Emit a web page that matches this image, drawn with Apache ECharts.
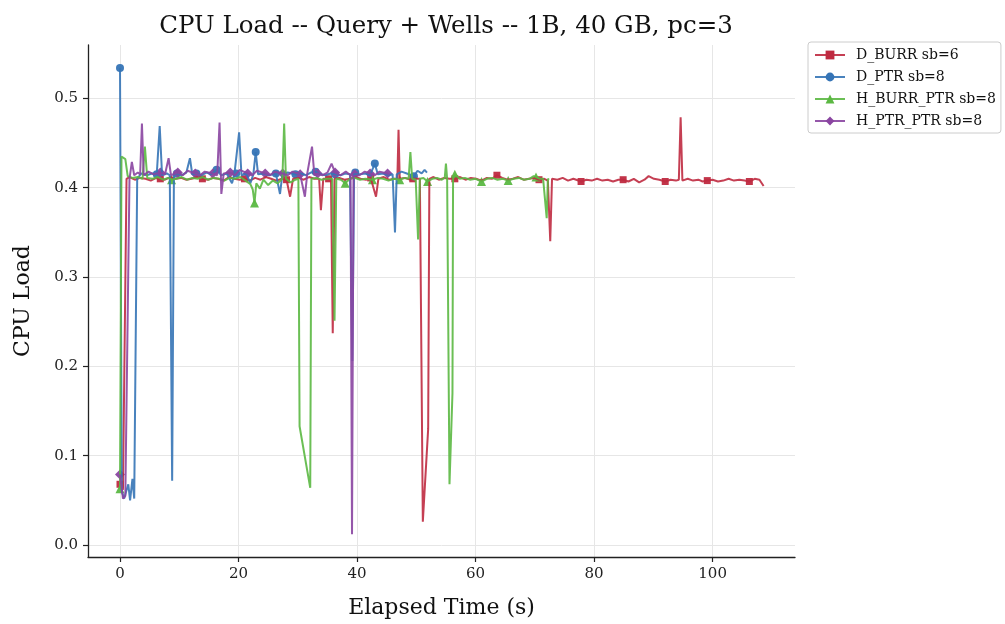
<!DOCTYPE html>
<html>
<head>
<meta charset="utf-8">
<script src="https://cdn.jsdelivr.net/npm/echarts@6/dist/echarts.min.js"></script>
<style>
  html, body { margin: 0; padding: 0; background: #fff; }
  #chart { width: 1005px; height: 624px; }
</style>
</head>
<body>
<div id="chart"></div>
<script>
// tick labels
const xTicks = [0, 20, 40, 60, 80, 100]
const yTicks = [0.0, 0.1, 0.2, 0.3, 0.4, 0.5]

const seriesNames = ['D_BURR sb=6', 'D_PTR sb=8', 'H_BURR_PTR sb=8', 'H_PTR_PTR sb=8']

// [elapsed s, cpu load]
const dBurr = [
  [0, 0.068], [0.5, 0.062], [0.8, 0.06], [1.1, 0.41], [1.6, 0.412], [2.5, 0.409], [3.4, 0.411], [4.3, 0.41],
  [5.2, 0.408], [6.1, 0.411], [6.8, 0.41], [7.6, 0.409], [8.5, 0.412], [9.4, 0.41], [10.3, 0.411], [11.2, 0.409],
  [12.1, 0.41], [13.0, 0.412], [13.9, 0.41], [14.8, 0.409], [15.7, 0.411], [16.6, 0.41], [17.5, 0.408], [18.4, 0.412],
  [19.3, 0.41], [20.2, 0.409], [21.0, 0.41], [21.9, 0.408], [22.8, 0.411], [23.7, 0.409], [24.6, 0.412], [25.5, 0.41],
  [26.4, 0.408], [27.3, 0.41], [28.1, 0.409], [28.7, 0.39], [29.2, 0.41], [30.1, 0.411], [31.0, 0.409], [31.9, 0.412],
  [32.8, 0.41], [33.6, 0.41], [33.9, 0.375], [34.3, 0.41], [35.2, 0.41], [35.6, 0.41], [35.9, 0.237], [36.2, 0.41],
  [37.0, 0.411], [37.9, 0.409], [38.8, 0.41], [39.7, 0.412], [40.6, 0.41], [41.5, 0.409], [42.3, 0.411], [43.2, 0.39],
  [43.6, 0.41], [44.5, 0.412], [45.4, 0.409], [46.3, 0.41], [46.8, 0.41], [47.0, 0.465], [47.2, 0.41], [48.1, 0.411],
  [49.0, 0.409], [49.4, 0.41], [50.2, 0.41], [50.6, 0.41], [51.1, 0.026], [52.0, 0.13], [52.2, 0.41], [52.9, 0.412],
  [53.8, 0.409], [54.7, 0.411], [55.6, 0.41], [56.5, 0.41], [57.4, 0.412], [58.3, 0.409], [59.2, 0.411], [60.1, 0.41],
  [61.0, 0.408], [61.9, 0.411], [62.8, 0.41], [63.6, 0.414], [64.5, 0.411], [65.4, 0.409], [66.3, 0.41], [67.2, 0.412],
  [68.1, 0.409], [69.0, 0.41], [69.9, 0.411], [70.7, 0.409], [71.6, 0.41], [72.2, 0.408], [72.6, 0.34], [72.9, 0.41],
  [73.8, 0.409], [74.7, 0.411], [75.6, 0.408], [76.5, 0.41], [77.8, 0.407], [78.7, 0.409], [79.6, 0.408], [80.5, 0.41],
  [81.4, 0.408], [82.3, 0.409], [83.2, 0.407], [84.1, 0.409], [84.9, 0.409], [85.8, 0.407], [86.7, 0.41], [87.6, 0.406],
  [88.5, 0.409], [89.2, 0.413], [90.1, 0.41], [91.0, 0.409], [92.0, 0.407], [92.9, 0.409], [93.8, 0.408], [94.3, 0.409],
  [94.6, 0.479], [94.9, 0.408], [95.8, 0.41], [96.7, 0.408], [97.6, 0.409], [98.3, 0.407], [99.1, 0.408], [100.0, 0.409],
  [100.9, 0.407], [101.8, 0.408], [102.7, 0.41], [103.6, 0.408], [104.5, 0.409], [105.4, 0.408], [106.2, 0.407],
  [107.1, 0.41], [107.9, 0.409], [108.6, 0.402]
]
const dBurrMarks = [
  [0, 0.068], [6.8, 0.41], [13.9, 0.41], [21.0, 0.41], [28.1, 0.409], [35.2, 0.41], [42.3, 0.411], [49.4, 0.41],
  [56.5, 0.41], [63.6, 0.414], [70.7, 0.409], [77.8, 0.407], [84.9, 0.409], [92.0, 0.407], [99.1, 0.408], [106.2, 0.407]
]

const dPtr = [
  [0, 0.534], [0.3, 0.06], [0.7, 0.052], [1.0, 0.05], [1.4, 0.068], [1.7, 0.05], [2.1, 0.074], [2.4, 0.052],
  [2.7, 0.05], [2.9, 0.41], [3.6, 0.416], [4.5, 0.414], [5.4, 0.416], [6.2, 0.415], [6.7, 0.469], [7.1, 0.414],
  [7.9, 0.416], [8.4, 0.414], [8.8, 0.072], [9.1, 0.415], [9.6, 0.416], [10.4, 0.414], [11.2, 0.417], [11.8, 0.433],
  [12.2, 0.415], [12.9, 0.416], [13.7, 0.414], [14.6, 0.417], [15.4, 0.415], [16.3, 0.42], [17.1, 0.414], [18.0, 0.416],
  [18.9, 0.405], [19.3, 0.415], [19.6, 0.416], [20.1, 0.462], [20.5, 0.414], [21.3, 0.416], [22.0, 0.405], [22.5, 0.415],
  [22.9, 0.44], [23.3, 0.415], [24.2, 0.416], [25.1, 0.414], [26.3, 0.416], [27.0, 0.393], [27.4, 0.415], [28.3, 0.417],
  [29.6, 0.415], [30.5, 0.416], [31.4, 0.414], [32.2, 0.417], [33.0, 0.418], [33.8, 0.415], [34.7, 0.414], [35.5, 0.416],
  [36.3, 0.415], [37.2, 0.414], [38.0, 0.416], [38.8, 0.415], [39.2, 0.206], [39.5, 0.415], [39.7, 0.417], [40.5, 0.415],
  [41.4, 0.416], [42.2, 0.414], [43.0, 0.427], [43.5, 0.415], [44.4, 0.416], [45.3, 0.414], [46.0, 0.415], [46.4, 0.35],
  [46.7, 0.415], [47.5, 0.418], [48.4, 0.416], [49.6, 0.413], [50.2, 0.419], [50.9, 0.416], [51.4, 0.42], [51.8, 0.417]
]
const dPtrMarks = [
  [0, 0.534], [6.2, 0.415], [9.6, 0.416], [12.9, 0.416], [16.3, 0.42], [19.6, 0.416], [22.9, 0.44], [26.3, 0.416],
  [29.6, 0.415], [33.0, 0.418], [36.3, 0.415], [39.7, 0.417], [43.0, 0.427], [49.6, 0.413]
]

const hBurrPtr = [
  [0, 0.063], [0.25, 0.435], [0.9, 0.432], [1.3, 0.413], [2.1, 0.411], [3.0, 0.412], [3.8, 0.41], [4.2, 0.446],
  [4.6, 0.411], [5.5, 0.41], [6.4, 0.412], [7.3, 0.409], [8.1, 0.411], [8.7, 0.409], [9.5, 0.41], [10.4, 0.412],
  [11.3, 0.409], [12.2, 0.411], [13.1, 0.41], [14.0, 0.412], [14.9, 0.409], [15.8, 0.411], [16.7, 0.41], [17.6, 0.408],
  [18.5, 0.411], [19.4, 0.41], [20.3, 0.412], [21.2, 0.408], [22.0, 0.404], [22.4, 0.398], [22.7, 0.383], [23.0, 0.405],
  [23.6, 0.399], [24.2, 0.409], [25.0, 0.403], [25.8, 0.408], [26.6, 0.405], [27.4, 0.41], [27.7, 0.472], [28.0, 0.41],
  [28.8, 0.406], [29.6, 0.409], [30.1, 0.41], [30.3, 0.133], [32.1, 0.064], [32.3, 0.41], [33.1, 0.411], [34.0, 0.409],
  [34.9, 0.41], [35.8, 0.41], [36.2, 0.251], [36.5, 0.41], [37.3, 0.409], [38.0, 0.405], [38.8, 0.41], [39.6, 0.411],
  [40.5, 0.409], [41.4, 0.41], [42.6, 0.409], [43.5, 0.411], [44.4, 0.41], [45.3, 0.408], [46.2, 0.41], [47.2, 0.409],
  [48.0, 0.411], [48.7, 0.41], [49.0, 0.44], [49.3, 0.41], [49.9, 0.409], [50.3, 0.342], [50.6, 0.41], [51.2, 0.411],
  [51.9, 0.407], [52.7, 0.41], [53.5, 0.411], [54.3, 0.409], [54.8, 0.411], [55.0, 0.427], [55.2, 0.41], [55.6, 0.068],
  [56.1, 0.17], [56.2, 0.41], [56.5, 0.415], [57.3, 0.41], [58.2, 0.411], [59.1, 0.409], [60.0, 0.41], [61.0, 0.407],
  [61.9, 0.41], [62.8, 0.411], [63.7, 0.409], [64.6, 0.41], [65.5, 0.408], [66.4, 0.41], [67.3, 0.411], [68.2, 0.409],
  [69.1, 0.41], [69.8, 0.413], [70.2, 0.412], [70.9, 0.41], [71.4, 0.41], [72.0, 0.366], [72.2, 0.41], [72.4, 0.409]
]
const hBurrPtrMarks = [
  [0, 0.063], [8.7, 0.409], [22.7, 0.383], [38.0, 0.405], [42.6, 0.409], [47.2, 0.409], [51.9, 0.407],
  [56.5, 0.415], [61.0, 0.407], [65.5, 0.408], [70.2, 0.412]
]

const hPtrPtr = [
  [0, 0.079], [0.5, 0.052], [0.9, 0.055], [1.6, 0.41], [2.0, 0.429], [2.4, 0.414], [3.0, 0.417], [3.4, 0.415],
  [3.7, 0.472], [4.0, 0.414], [4.8, 0.418], [5.7, 0.415], [6.8, 0.417], [7.6, 0.415], [8.2, 0.433], [8.6, 0.414],
  [9.75, 0.417], [10.6, 0.414], [11.4, 0.419], [12.7, 0.416], [13.5, 0.414], [14.3, 0.418], [15.65, 0.416], [16.4, 0.414],
  [16.8, 0.473], [17.1, 0.393], [17.5, 0.416], [18.6, 0.417], [19.4, 0.414], [20.2, 0.42], [21.55, 0.416], [22.3, 0.414],
  [23.1, 0.419], [24.5, 0.416], [25.3, 0.414], [26.1, 0.418], [27.45, 0.416], [28.3, 0.414], [29.1, 0.418], [30.4, 0.415],
  [31.2, 0.39], [31.6, 0.416], [32.4, 0.446], [32.8, 0.414], [33.35, 0.416], [34.2, 0.414], [35.0, 0.417], [35.7, 0.427],
  [36.3, 0.417], [37.2, 0.414], [38.1, 0.418], [38.9, 0.414], [39.15, 0.012], [39.4, 0.413], [39.6, 0.415], [40.4, 0.414],
  [41.3, 0.418], [42.2, 0.416], [43.0, 0.414], [43.8, 0.418], [45.15, 0.416], [45.4, 0.414]
]
const hPtrPtrMarks = [
  [0, 0.079], [6.8, 0.417], [9.75, 0.417], [12.7, 0.416], [15.65, 0.416], [18.6, 0.417], [21.55, 0.416], [24.5, 0.416],
  [27.45, 0.416], [30.4, 0.415], [33.35, 0.416], [36.3, 0.417], [39.6, 0.415], [42.2, 0.416], [45.15, 0.416]
]

const colors = ['#bf2a40', '#3574b6', '#5bb843', '#8a45a1']
const symbols = ['rect', 'circle', 'triangle', 'diamond']
const symbolSizes = [7, 8, 9, 10]
const lines = [dBurr, dPtr, hBurrPtr, hPtrPtr]
const marks = [dBurrMarks, dPtrMarks, hBurrPtrMarks, hPtrPtrMarks]

const font = 'DejaVu Serif'

const chart = echarts.init(document.getElementById('chart'))

const series = []
seriesNames.forEach((name, i) => {
  series.push({
    name: name,
    type: 'line',
    data: lines[i],
    symbol: symbols[i],
    showSymbol: false,
    lineStyle: { color: colors[i], width: 2, opacity: 0.9 },
    itemStyle: { color: colors[i] },
    emphasis: { disabled: true },
    animation: false
  })
  series.push({
    name: name,
    type: 'scatter',
    data: marks[i],
    symbol: symbols[i],
    symbolSize: symbolSizes[i],
    itemStyle: { color: colors[i], opacity: 0.95 },
    emphasis: { disabled: true },
    animation: false
  })
})

chart.setOption({
  backgroundColor: '#fff',
  animation: false,
  textStyle: { fontFamily: font },
  title: {
    text: 'CPU Load -- Query + Wells -- 1B, 40 GB, pc=3',
    left: 441, top: 9, textAlign: 'center',
    textStyle: { fontFamily: font, fontSize: 24.5, fontWeight: 'normal', color: '#111' }
  },
  legend: {
    data: seriesNames,
    orient: 'vertical',
    left: 808, top: 42,
    itemWidth: 30, itemHeight: 11, itemGap: 8,
    padding: [6, 5, 5, 6],
    borderColor: '#cccccc', borderWidth: 1, borderRadius: 3,
    textStyle: { fontFamily: font, fontSize: 14, color: '#111', padding: [0, 0, 0, 6] }
  },
  grid: { left: 88, right: 210, top: 45, bottom: 66, containLabel: false },
  xAxis: {
    type: 'value',
    min: -5.4, max: 113.9,
    name: 'Elapsed Time (s)', nameLocation: 'middle', nameGap: 40,
    nameTextStyle: { fontFamily: font, fontSize: 22, color: '#111' },
    axisLine: { onZero: false, lineStyle: { color: '#222', width: 1.3 } },
    axisTick: { customValues: xTicks, length: 5, lineStyle: { color: '#222', width: 1.2 } },
    axisLabel: { customValues: xTicks, margin: 10, fontFamily: font, fontSize: 15, color: '#222' },
    splitLine: { show: true, lineStyle: { color: '#e6e6e6', width: 1 } }
  },
  yAxis: {
    type: 'value',
    min: -0.0134, max: 0.5598,
    name: 'CPU Load', nameLocation: 'middle', nameGap: 54,
    nameTextStyle: { fontFamily: font, fontSize: 22, color: '#111' },
    axisLine: { show: true, onZero: false, lineStyle: { color: '#222', width: 1.3 } },
    axisTick: { show: true, customValues: yTicks, length: 5, lineStyle: { color: '#222', width: 1.2 } },
    axisLabel: {
      customValues: yTicks, margin: 10, fontFamily: font, fontSize: 15, color: '#222',
      formatter: v => v.toFixed(1)
    },
    splitLine: { show: true, lineStyle: { color: '#e6e6e6', width: 1 } }
  },
  series: series
})
</script>
</body>
</html>
